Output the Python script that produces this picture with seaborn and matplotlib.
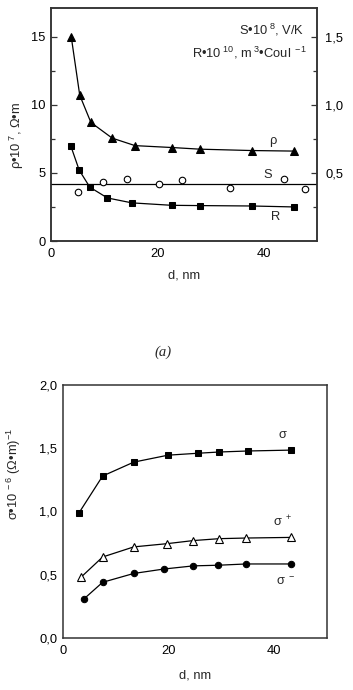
import numpy as np
import pandas as pd
import matplotlib
matplotlib.use("Agg")
import matplotlib.pyplot as plt
import seaborn as sns
from matplotlib.ticker import MultipleLocator, FuncFormatter, FixedLocator

# ------------------------------
# DATA
# ------------------------------
# panel (a): rho, R (left axis) and S (right axis) vs film thickness d
d_rho = [3.8, 5.4, 7.5, 11.5, 15.8, 22.8, 28.0, 37.7, 45.6]
rho = [15.0, 10.7, 8.7, 7.55, 7.0, 6.86, 6.74, 6.64, 6.6]

d_R = [3.7, 5.3, 7.3, 10.6, 15.2, 22.7, 28.1, 37.8, 45.7]
R = [7.0, 5.2, 3.95, 3.16, 2.8, 2.62, 2.6, 2.57, 2.5]

d_S = [5.0, 9.7, 14.2, 20.3, 24.7, 33.6, 43.8, 47.8]
S = [0.36, 0.434, 0.456, 0.419, 0.449, 0.39, 0.456, 0.382]
S_level = 0.421

# panel (b): conductivities
d_sig = [3.0, 7.5, 13.4, 19.9, 25.5, 29.6, 35.0, 43.2]
sig = [0.987, 1.28, 1.39, 1.445, 1.46, 1.47, 1.478, 1.485]

d_sigp = [3.4, 7.5, 13.4, 19.6, 24.7, 29.6, 34.7, 43.2]
sig_plus = [0.48, 0.64, 0.72, 0.745, 0.77, 0.785, 0.79, 0.795]

d_sigm = [4.0, 7.5, 13.4, 19.1, 24.7, 29.4, 34.7, 43.2]
sig_minus = [0.31, 0.44, 0.51, 0.545, 0.57, 0.575, 0.585, 0.585]

# ------------------------------
# STYLE
# ------------------------------
sns.set_style("white")
plt.rcParams['font.family'] = ['Liberation Sans', 'DejaVu Sans']
plt.rcParams['mathtext.fontset'] = 'custom'
plt.rcParams['mathtext.rm'] = 'Liberation Sans'
plt.rcParams['mathtext.it'] = 'Liberation Sans:italic'
plt.rcParams['mathtext.bf'] = 'Liberation Sans:bold'

FS = 9.3
SPINE = '#333333'
comma = FuncFormatter(lambda v, p: f'{v:.1f}'.replace('.', ','))


def style_axes(ax, pad_y=4):
    for s in ax.spines.values():
        s.set_color(SPINE)
        s.set_linewidth(1.1)
    ax.tick_params(which='both', direction='in', colors=SPINE, labelcolor='black',
                   labelsize=FS, width=0.9, top=False, right=False)
    ax.tick_params(which='major', length=4.5)
    ax.tick_params(which='minor', length=3)
    ax.tick_params(axis='y', pad=pad_y)
    ax.tick_params(axis='x', pad=5)


fig = plt.figure(figsize=(3.53, 6.90), dpi=100)

# ------------------------------
# PANEL (a)
# ------------------------------
ax1 = fig.add_axes([0.1445, 0.6507, 0.7535, 0.3377])
df_rho = pd.DataFrame({'d': d_rho, 'v': rho})
df_R = pd.DataFrame({'d': d_R, 'v': R})
sns.lineplot(data=df_rho, x='d', y='v', ax=ax1, color='black', lw=0.9,
             marker='^', markersize=5.8, markeredgecolor='black')
sns.lineplot(data=df_R, x='d', y='v', ax=ax1, color='black', lw=0.9,
             marker='s', markersize=4.4, markeredgecolor='black')
ax1.set_xlim(0, 50)
ax1.set_ylim(0, 17.1)
ax1.xaxis.set_major_locator(MultipleLocator(20))
ax1.xaxis.set_minor_locator(FixedLocator([10, 30, 50]))
ax1.yaxis.set_major_locator(MultipleLocator(5))
ax1.yaxis.set_minor_locator(MultipleLocator(2.5))
style_axes(ax1)
ax1.set_xlabel('d, nm', fontsize=FS, labelpad=7)
ax1.set_ylabel('ρ•10$^{\\ 7}$, Ω•m', fontsize=FS)
ax1.yaxis.set_label_coords(-0.095, 0.455)

ax1r = ax1.twinx()
df_S = pd.DataFrame({'d': d_S, 'v': S})
sns.scatterplot(data=df_S, x='d', y='v', ax=ax1r, marker='o', s=22,
                facecolor='white', edgecolor='black', linewidth=0.8, zorder=3)
ax1r.axhline(S_level, color='black', lw=0.9)
ax1r.set_ylim(0, 1.71)
ax1r.yaxis.set_major_locator(FixedLocator([0.5, 1.0, 1.5]))
ax1r.yaxis.set_minor_locator(FixedLocator([0.25, 0.75, 1.25]))
ax1r.yaxis.set_major_formatter(comma)
ax1r.set_ylabel('')
for s in ax1r.spines.values():
    s.set_color(SPINE)
    s.set_linewidth(1.1)
ax1r.tick_params(which='both', direction='in', colors=SPINE, labelcolor='black',
                 labelsize=FS, width=0.9, pad=6)
ax1r.tick_params(which='major', length=4.5)
ax1r.tick_params(which='minor', length=3)

ax1.text(0.819, 0.416, 'ρ', transform=ax1.transAxes, fontsize=FS)
ax1.text(0.797, 0.27, 'S', transform=ax1.transAxes, fontsize=FS)
ax1.text(0.827, 0.09, 'R', transform=ax1.transAxes, fontsize=FS)
ax1.text(0.951, 0.906, 'S•10$^{\\ 8}$, V/K', transform=ax1.transAxes,
         fontsize=FS, ha='right', va='center')
ax1.text(0.966, 0.807, 'R•10$^{\\ 10}$, m$^{\\ 3}$•Coul$^{\\ -1}$',
         transform=ax1.transAxes, fontsize=FS, ha='right', va='center')

fig.text(163 / 353, 1 - 352 / 690, '(a)', fontsize=10.5, style='italic',
         family='Liberation Serif', ha='center', va='center')

# ------------------------------
# PANEL (b)
# ------------------------------
ax2 = fig.add_axes([0.1785, 0.0754, 0.7479, 0.3667])
sns.lineplot(x=d_sig, y=sig, ax=ax2, color='black', lw=0.9,
             marker='s', markersize=4.4, markeredgecolor='black')
sns.lineplot(x=d_sigp, y=sig_plus, ax=ax2, color='black', lw=0.9,
             marker='^', markersize=5.4, markerfacecolor='white',
             markeredgecolor='black', markeredgewidth=0.8)
sns.lineplot(x=d_sigm, y=sig_minus, ax=ax2, color='black', lw=0.9,
             marker='o', markersize=4.6, markeredgecolor='black')
ax2.set_xlim(0, 50)
ax2.set_ylim(0, 2.0)
ax2.xaxis.set_major_locator(MultipleLocator(20))
ax2.xaxis.set_minor_locator(FixedLocator([10, 30]))
ax2.yaxis.set_major_locator(MultipleLocator(0.5))
ax2.yaxis.set_minor_locator(MultipleLocator(0.25))
ax2.yaxis.set_major_formatter(comma)
style_axes(ax2)
ax2.set_xlabel('d, nm', fontsize=FS, labelpad=9)
ax2.set_ylabel('σ•10$^{\\ -6}$ (Ω•m)$^{-1}$', fontsize=FS)
ax2.yaxis.set_label_coords(-0.15, 0.65)

ax2.text(0.815, 0.79, 'σ', transform=ax2.transAxes, fontsize=FS)
ax2.text(0.795, 0.44, 'σ$^{\\ +}$', transform=ax2.transAxes, fontsize=FS)
ax2.text(0.807, 0.21, 'σ$^{\\ -}$', transform=ax2.transAxes, fontsize=FS)

fig.savefig('out.png', dpi=100)
